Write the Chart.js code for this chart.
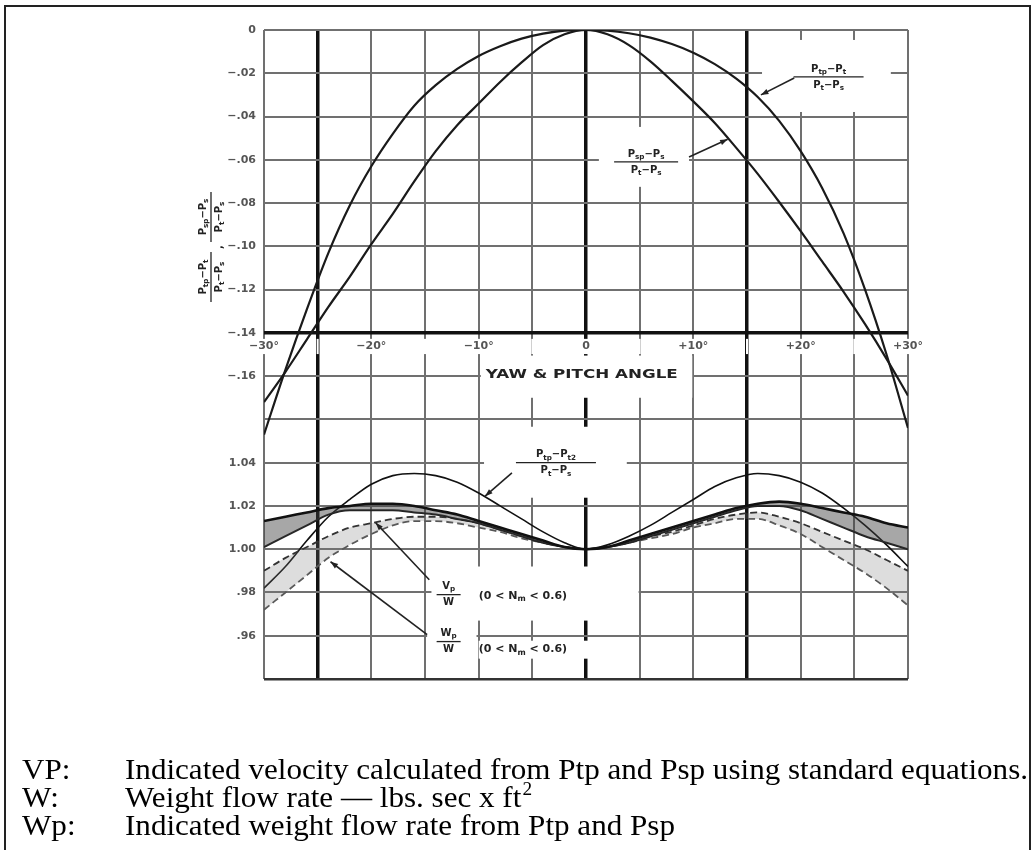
<!DOCTYPE html>
<html>
<head>
<meta charset="utf-8">
<script src="https://cdn.jsdelivr.net/npm/chart.js@4.4.1/dist/chart.umd.min.js"></script>
<style>
  html, body { margin: 0; padding: 0; background: #fff; }
  canvas { display: block; }
</style>
</head>
<body>
<canvas id="grafico" width="1034" height="850"></canvas>
<script>
// --- datos ---
const angulos = [-30,-28,-26,-24,-22,-20,-18,-16,-14,-12,-10,-8,-6,-4,-2,0,2,4,6,8,10,12,14,16,18,20,22,24,26,28,30];

// curvas superiores (escala de arriba, 0 a -.16)
const ptpCurva = [-.187,-.157,-.129,-.103,-.081,-.063,-.048,-.035,-.0255,-.018,-.012,-.0075,-.004,-.0017,-.0003,0,-.0003,-.0015,-.0035,-.0065,-.0105,-.0158,-.0225,-.031,-.042,-.056,-.073,-.094,-.120,-.150,-.184];
const pspCurva = [-.172,-.158,-.143,-.128,-.114,-.099,-.085,-.070,-.056,-.044,-.034,-.024,-.015,-.007,-.002,0,-.002,-.007,-.0145,-.0235,-.033,-.043,-.0545,-.0665,-.0795,-.093,-.107,-.121,-.136,-.152,-.169];

// curvas inferiores (escala de abajo, .96 a 1.04)
const pt2Curva = [.982,.992,1.004,1.015,1.023,1.030,1.034,1.035,1.034,1.031,1.026,1.020,1.014,1.008,1.003,1.000,1.002,1.006,1.011,1.017,1.023,1.029,1.033,1.035,1.034,1.031,1.026,1.019,1.011,1.002,.992];
const vpAlto = [1.013,1.015,1.017,1.019,1.020,1.021,1.021,1.020,1.018,1.016,1.013,1.010,1.007,1.004,1.001,1.000,1.001,1.004,1.007,1.010,1.013,1.016,1.019,1.021,1.022,1.021,1.019,1.017,1.015,1.012,1.010];
const vpBajo = [1.001,1.006,1.011,1.016,1.018,1.018,1.018,1.017,1.016,1.014,1.012,1.009,1.006,1.003,1.001,1.000,1.001,1.003,1.006,1.009,1.012,1.015,1.018,1.020,1.020,1.018,1.014,1.010,1.006,1.003,1.000];
const wpAlto = [.990,.996,1.001,1.006,1.010,1.012,1.014,1.015,1.015,1.014,1.012,1.009,1.006,1.003,1.001,1.000,1.001,1.003,1.006,1.008,1.011,1.014,1.016,1.017,1.015,1.012,1.008,1.004,1.000,.995,.990];
const wpBajo = [.972,.980,.988,.996,1.002,1.007,1.011,1.013,1.013,1.012,1.010,1.008,1.005,1.003,1.001,1.000,1.001,1.003,1.005,1.007,1.010,1.012,1.014,1.014,1.011,1.007,1.001,.995,.989,.982,.974];

// etiquetas de ejes
const etiquetasArriba = ['0','\u2212.02','\u2212.04','\u2212.06','\u2212.08','\u2212.10','\u2212.12','\u2212.14','\u2212.16'];
const etiquetasAbajo = {10:'1.04', 11:'1.02', 12:'1.00', 13:'.98', 14:'.96'};
const lineasGruesasX = [-25, 0, 15];
const filaGruesa = 7;

const notas = [
  ['VP:', 'Indicated velocity calculated from Ptp and Psp using standard equations.', ''],
  ['W:', 'Weight flow rate \u2014 lbs. sec x ft', '2'],
  ['Wp:', 'Indicated weight flow rate from Ptp and Psp', '']
];

const fam = '"DejaVu Sans", sans-serif';
const pts = arr => angulos.map((a, i) => ({ x: a, y: arr[i] }));

// texto con subindices: P_{tp}
function partes(s) {
  const out = []; const re = /_\{([^}]*)\}/g; let last = 0, m;
  while ((m = re.exec(s))) {
    if (m.index > last) out.push({ t: s.slice(last, m.index), sub: false });
    out.push({ t: m[1], sub: true });
    last = re.lastIndex;
  }
  if (last < s.length) out.push({ t: s.slice(last), sub: false });
  return out;
}
function texto(ctx, s, x, y, size, align) {
  const ps = partes(s); let w = 0;
  ps.forEach(p => { ctx.font = 'bold ' + (p.sub ? size * 0.72 : size) + 'px ' + fam; p.w = ctx.measureText(p.t).width; w += p.w; });
  let cx = align === 'center' ? x - w / 2 : (align === 'right' ? x - w : x);
  ctx.textAlign = 'left';
  ps.forEach(p => {
    ctx.font = 'bold ' + (p.sub ? size * 0.72 : size) + 'px ' + fam;
    ctx.fillText(p.t, cx, p.sub ? y + size * 0.3 : y);
    cx += p.w;
  });
}
function fraccion(ctx, num, den, cx, cy, size, barW) {
  ctx.textBaseline = 'middle';
  texto(ctx, num, cx, cy - size * 0.8, size, 'center');
  texto(ctx, den, cx, cy + size * 0.8, size, 'center');
  ctx.beginPath(); ctx.moveTo(cx - barW / 2, cy); ctx.lineTo(cx + barW / 2, cy);
  ctx.lineWidth = 1.3; ctx.stroke();
}
function flecha(ctx, x1, y1, x2, y2) {
  ctx.beginPath(); ctx.moveTo(x1, y1); ctx.lineTo(x2, y2); ctx.lineWidth = 1.6; ctx.stroke();
  const ang = Math.atan2(y2 - y1, x2 - x1), L = 8;
  ctx.beginPath();
  ctx.moveTo(x2, y2);
  ctx.lineTo(x2 - L * Math.cos(ang - 0.35), y2 - L * Math.sin(ang - 0.35));
  ctx.lineTo(x2 - L * Math.cos(ang + 0.35), y2 - L * Math.sin(ang + 0.35));
  ctx.closePath(); ctx.fill();
}

// cajas blancas que cortan la cuadricula detras de los rotulos (coordenadas de datos)
const cajas = [
  { eje: 'y', x1: 16.4, x2: 28.4, y1: -0.0046, y2: -0.0379 },
  { eje: 'y', x1: 1.2, x2: 9.6, y1: -0.0448, y2: -0.0725 },
  { eje: 'y', x1: -9.8, x2: 9.9, y1: -0.1505, y2: -0.170 },
  { eje: 'y2', x1: -9.5, x2: 3.8, y1: 1.0566, y2: 1.0238 },
  { eje: 'y2', x1: -14.4, x2: 4.9, y1: 0.992, y2: 0.967 },
  { eje: 'y2', x1: -14.8, x2: -10.2, y1: 0.9665, y2: 0.9415 },
  { eje: 'y2', x1: -10.0, x2: 2.6, y1: 0.9577, y2: 0.9494 }
];

const rotulos = {
  id: 'rotulos',
  beforeDatasetsDraw(chart) {
    const ctx = chart.ctx, sx = chart.scales.x;
    ctx.save(); ctx.fillStyle = '#fff';
    cajas.forEach(c => {
      const sy = chart.scales[c.eje];
      const x1 = sx.getPixelForValue(c.x1), x2 = sx.getPixelForValue(c.x2);
      const y1 = sy.getPixelForValue(c.y1), y2 = sy.getPixelForValue(c.y2);
      ctx.fillRect(x1, y1, x2 - x1, y2 - y1);
    });
    ctx.restore();
  },
  afterDatasetsDraw(chart) {
    const ctx = chart.ctx, sx = chart.scales.x, sy = chart.scales.y, sy2 = chart.scales.y2;
    const X = a => sx.getPixelForValue(a);
    ctx.save();
    ctx.fillStyle = '#222'; ctx.strokeStyle = '#222';

    fraccion(ctx, 'P_{tp}\u2212P_{t}', 'P_{t}\u2212P_{s}', X(22.6), sy.getPixelForValue(-0.0217), 10, 70);
    flecha(ctx, X(19.4), sy.getPixelForValue(-0.0222), X(16.3), sy.getPixelForValue(-0.0300));

    fraccion(ctx, 'P_{sp}\u2212P_{s}', 'P_{t}\u2212P_{s}', X(5.6), sy.getPixelForValue(-0.061), 10, 64);
    flecha(ctx, X(9.6), sy.getPixelForValue(-0.0587), X(13.2), sy.getPixelForValue(-0.0505));

    ctx.textBaseline = 'middle';
    ctx.font = 'bold 11px ' + fam;
    const titulo = 'YAW & PITCH ANGLE';
    const tw = ctx.measureText(titulo).width;
    ctx.save();
    ctx.translate(X(-0.4), sy.getPixelForValue(-0.1594));
    ctx.scale(192 / tw, 1.1);
    ctx.textAlign = 'center'; ctx.fillText(titulo, 0, 0);
    ctx.restore();

    fraccion(ctx, 'P_{tp}\u2212P_{t2}', 'P_{t}\u2212P_{s}', X(-2.8), sy2.getPixelForValue(1.040), 10, 80);
    flecha(ctx, X(-6.9), sy2.getPixelForValue(1.0353), X(-9.4), sy2.getPixelForValue(1.0245));

    fraccion(ctx, 'V_{p}', 'W', X(-12.8), sy2.getPixelForValue(0.979), 10, 24);
    ctx.textBaseline = 'middle';
    texto(ctx, '(0 < N_{m} < 0.6)', X(-10.0), sy2.getPixelForValue(0.9785), 11, 'left');
    flecha(ctx, X(-14.6), sy2.getPixelForValue(0.9859), X(-19.6), sy2.getPixelForValue(1.0122));

    fraccion(ctx, 'W_{p}', 'W', X(-12.8), sy2.getPixelForValue(0.9573), 10, 24);
    ctx.textBaseline = 'middle';
    texto(ctx, '(0 < N_{m} < 0.6)', X(-10.0), sy2.getPixelForValue(0.9536), 11, 'left');
    flecha(ctx, X(-14.8), sy2.getPixelForValue(0.9605), X(-23.8), sy2.getPixelForValue(0.9942));

    ctx.restore();
  },
  afterDraw(chart) {
    const ctx = chart.ctx;
    ctx.save();
    ctx.fillStyle = '#222'; ctx.strokeStyle = '#222';
    // titulo del eje y, girado
    ctx.translate(211, 247);
    ctx.rotate(-Math.PI / 2);
    fraccion(ctx, 'P_{tp}\u2212P_{t}', 'P_{t}\u2212P_{s}', -30, 0, 10, 50);
    ctx.textBaseline = 'middle';
    texto(ctx, ',', 0, 8, 10, 'center');
    fraccion(ctx, 'P_{sp}\u2212P_{s}', 'P_{t}\u2212P_{s}', 30, 0, 10, 50);
    ctx.restore();

    // marco exterior
    ctx.save();
    ctx.strokeStyle = '#222'; ctx.lineWidth = 2;
    ctx.beginPath();
    ctx.moveTo(5, 850); ctx.lineTo(5, 6); ctx.lineTo(1030, 6); ctx.lineTo(1030, 850);
    ctx.stroke();
    ctx.restore();

    // notas
    ctx.save();
    ctx.fillStyle = '#000'; ctx.textBaseline = 'alphabetic'; ctx.textAlign = 'left';
    ctx.font = '29px "Liberation Serif", "Times New Roman", serif';
    const escala = 903 / ctx.measureText(notas[0][1]).width;
    const bases = [779, 807, 835];
    notas.forEach((n, i) => {
      ctx.save();
      ctx.translate(22, bases[i]); ctx.scale(escala, 1);
      ctx.fillText(n[0], 0, 0);
      ctx.restore();
      ctx.save();
      ctx.translate(125, bases[i]); ctx.scale(escala, 1);
      ctx.fillText(n[1], 0, 0);
      if (n[2]) {
        const w = ctx.measureText(n[1]).width;
        ctx.font = '18px "Liberation Serif", "Times New Roman", serif';
        ctx.fillText(n[2], w + 1, -12);
      }
      ctx.restore();
    });
    ctx.restore();
  }
};

const ctx = document.getElementById('grafico').getContext('2d');

const grafico = new Chart(ctx, {
  type: 'line',
  data: {
    datasets: [
      { label: '(Ptp-Pt)/(Pt-Ps)', data: pts(ptpCurva), yAxisID: 'y', borderColor: '#1a1a1a', borderWidth: 2.2 },
      { label: '(Psp-Ps)/(Pt-Ps)', data: pts(pspCurva), yAxisID: 'y', borderColor: '#1a1a1a', borderWidth: 2.2 },
      { label: 'Vp/W alto', data: pts(vpAlto), yAxisID: 'y2', borderColor: '#111', borderWidth: 2.6, fill: '+1', backgroundColor: 'rgba(60,60,60,0.45)' },
      { label: 'Vp/W bajo', data: pts(vpBajo), yAxisID: 'y2', borderColor: '#222', borderWidth: 2 },
      { label: 'Wp/W alto', data: pts(wpAlto), yAxisID: 'y2', borderColor: '#333', borderWidth: 1.8, borderDash: [7, 4], fill: '+1', backgroundColor: 'rgba(120,120,120,0.25)' },
      { label: 'Wp/W bajo', data: pts(wpBajo), yAxisID: 'y2', borderColor: '#555', borderWidth: 1.8, borderDash: [7, 4] },
      { label: '(Ptp-Pt2)/(Pt-Ps)', data: pts(pt2Curva), yAxisID: 'y2', borderColor: '#111', borderWidth: 1.6 }
    ]
  },
  options: {
    responsive: false,
    animation: false,
    layout: { padding: { left: 0, top: 30, right: 126, bottom: 171 } },
    elements: { point: { radius: 0 }, line: { cubicInterpolationMode: 'monotone' } },
    plugins: { legend: { display: false }, tooltip: { enabled: false } },
    scales: {
      x: {
        type: 'linear', min: -30, max: 30,
        position: { y: -0.14 },
        border: { display: false },
        grid: {
          drawTicks: false,
          color: c => (c.tick && lineasGruesasX.includes(c.tick.value)) ? '#111' : '#707070',
          lineWidth: c => (c.tick && lineasGruesasX.includes(c.tick.value)) ? 3.5 : 2
        },
        ticks: {
          stepSize: 5, autoSkip: false, maxRotation: 0, padding: 7,
          color: '#555', font: { family: fam, size: 11, weight: 'bold' },
          showLabelBackdrop: true, backdropColor: '#fff', backdropPadding: 1,
          callback: v => v % 10 !== 0 ? '' : (v === 0 ? '0' : (v > 0 ? '+' : '\u2212') + Math.abs(v) + '\u00b0')
        }
      },
      y: {
        type: 'linear', min: -0.30, max: 0, position: 'left',
        afterFit: s => { s.width = 264; },
        border: { display: false },
        grid: {
          drawTicks: false,
          color: c => {
            if (!c.tick) return '#707070';
            const f = Math.round(-c.tick.value / 0.02);
            return f === filaGruesa ? '#111' : (f === 15 ? '#333' : '#707070');
          },
          lineWidth: c => {
            if (!c.tick) return 2;
            const f = Math.round(-c.tick.value / 0.02);
            return f === filaGruesa ? 3.5 : (f === 15 ? 2.6 : 2);
          }
        },
        ticks: {
          stepSize: 0.02, autoSkip: false, padding: 8,
          color: '#555', font: { family: fam, size: 11, weight: 'bold' },
          callback: v => {
            const f = Math.round(-v / 0.02);
            if (f <= 8) return etiquetasArriba[f];
            return etiquetasAbajo[f] || '';
          }
        }
      },
      y2: { type: 'linear', min: 0.94, max: 1.24, display: false }
    }
  },
  plugins: [rotulos]
});
</script>
</body>
</html>
